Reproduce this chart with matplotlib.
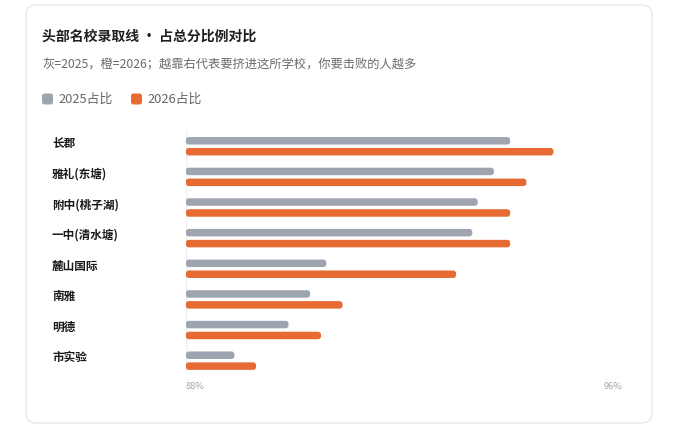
import matplotlib
matplotlib.use('Agg')
import matplotlib.pyplot as plt
from matplotlib.patches import FancyBboxPatch
from matplotlib.transforms import IdentityTransform, blended_transform_factory

plt.rcParams['font.family'] = ['Noto Sans CJK SC', 'DejaVu Sans']

schools = ['长郡', '雅礼(东塘)', '附中(桃子湖)', '一中(清水塘)', '麓山国际', '南雅', '明德', '市实验']
share_2025 = [94.0, 93.7, 93.4, 93.3, 90.6, 90.3, 89.9, 88.9]
share_2026 = [94.8, 94.3, 94.0, 94.0, 93.0, 90.9, 90.5, 89.3]
x_min, x_max = 88, 96
tick_labels = ['88%', '96%']

GRAY = '#9ea5b1'
ORANGE = '#e86a33'
W, H = 675, 430

fig = plt.figure(figsize=(W / 100, H / 100), dpi=100)
fig.patch.set_facecolor('white')

# card outline (display pixels, origin bottom-left)
card = FancyBboxPatch((26, H - 423), 626, 418, boxstyle='round,pad=0,rounding_size=10',
                      transform=IdentityTransform(), facecolor='none', edgecolor='#e8e8e8',
                      lw=1, zorder=-5)
fig.patches.append(card)

def ftext(x, y, s, **kw):
    return fig.text(x / W, 1 - y / H, s, **kw)

ftext(42, 36.5, '头部名校录取线 • 占总分比例对比', fontsize=10, fontweight='bold',
      color='#1f1f1f', va='center')
ftext(42, 65, '灰=2025，橙=2026；越靠右代表要挤进这所学校，你要击败的人越多', fontsize=8.85,
      color='#6b6b6b', va='center')

# legend
for x0, col, lab in [(42, GRAY, '2025占比'), (131, ORANGE, '2026占比')]:
    sq = FancyBboxPatch((x0, H - 99 - 5.5), 11, 11, boxstyle='round,pad=0,rounding_size=2.5',
                        transform=IdentityTransform(), facecolor=col, edgecolor='none')
    fig.patches.append(sq)
    ftext(x0 + 16, 99, lab, fontsize=9.3, color='#666666', va='center')

# plot area
top_px, bot_px = 130, 372
left_px, right_px = 185.8, 618.3
ax = fig.add_axes([left_px / W, 1 - bot_px / H, (right_px - left_px) / W, (bot_px - top_px) / H])
pitch = 30.63
y_top = (top_px - 146.25) / pitch
y_bot = (bot_px - 146.25) / pitch
ax.set_xlim(x_min, x_max)
ax.set_ylim(y_bot, y_top)
for s in ax.spines.values():
    s.set_visible(False)
ax.set_xticks([])
ax.set_yticks([])
ax.patch.set_alpha(0)

ax.axvline(x_min, color='#eeeeee', lw=1, zorder=0)
ax.axvline(x_max, color='#eeeeee', lw=1, zorder=0)

rows = list(range(len(schools)))
off = 0.178
bh = 0.245
b1 = ax.barh([r - off for r in rows], [v - x_min for v in share_2025], left=x_min, height=bh, color=GRAY)
b2 = ax.barh([r + off for r in rows], [v - x_min for v in share_2026], left=x_min, height=bh, color=ORANGE)

# round the bar corners
xpp = (x_max - x_min) / (right_px - left_px)
ypp = 1 / pitch
aspect = ypp / xpp
for cont in (b1, b2):
    for p in cont.patches:
        x, y = p.get_x(), p.get_y()
        w, h = p.get_width(), p.get_height()
        p.set_visible(False)
        ax.add_patch(FancyBboxPatch((x, y), w, h,
                                    boxstyle='round,pad=0,rounding_size=%f' % (3 * xpp),
                                    mutation_aspect=aspect, facecolor=p.get_facecolor(),
                                    edgecolor='none', zorder=2))

# category labels
lab_tr = blended_transform_factory(fig.transFigure, ax.transData)
for r, name in zip(rows, schools):
    ax.text(52 / W, r - 0.09, name, transform=lab_tr, fontsize=8.4, color='#1a1a1a',
            va='center', ha='left', fontweight='semibold')

# x tick labels
tk_tr = ax.get_xaxis_transform()
ty = (bot_px - 386.5) / (bot_px - top_px)
ax.text(x_min, ty, tick_labels[0], transform=tk_tr, fontsize=6.7, color='#a8a8a8', ha='left', va='center')
ax.text(x_max + 0.07, ty, tick_labels[1], transform=tk_tr, fontsize=6.7, color='#a8a8a8', ha='right', va='center')

fig.savefig('out.png', dpi=100)
